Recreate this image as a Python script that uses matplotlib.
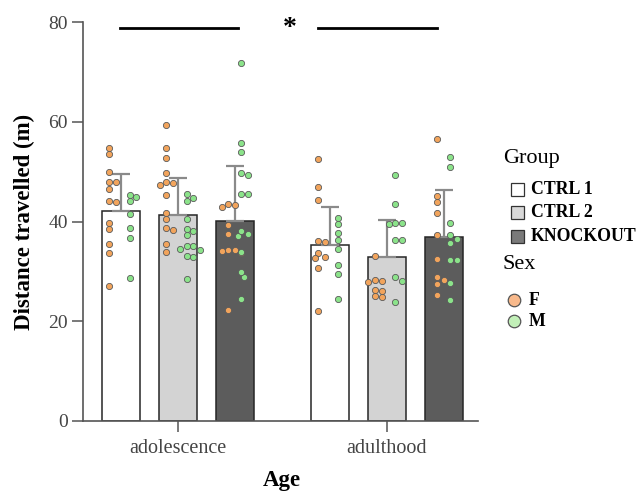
import numpy as np
import matplotlib
matplotlib.use("Agg")
import matplotlib.pyplot as plt
from matplotlib.patches import Rectangle

plt.rcParams['font.family'] = ['Liberation Serif', 'DejaVu Serif']

# data
ages = ["adolescence", "adulthood"]
groups = ["CTRL 1", "CTRL 2", "KNOCKOUT"]
group_colors = ["#ffffff", "#d3d3d3", "#5c5c5c"]
legend_colors = ["#ffffff", "#d8d8d8", "#7a7a7a"]

means = [[42.1, 41.3, 40.2], [35.3, 32.9, 36.9]]
errs = [[7.4, 7.4, 10.9], [7.6, 7.4, 9.5]]

# individual animals: F (orange) and M (green), per age and group
f_vals = [
    [[54.7, 53.6, 50.0, 47.9, 48.0, 46.6, 44.0, 44.2, 39.7, 38.5, 35.4, 33.6, 27.1],
     [59.4, 54.8, 52.7, 49.8, 47.4, 47.7, 47.9, 45.4, 41.7, 40.5, 38.3, 38.7, 35.5, 33.8],
     [43.3, 43.0, 43.5, 39.3, 37.5, 34.2, 34.0, 33.6, 34.2, 22.3]],
    [[52.5, 46.9, 44.4, 35.8, 36.0, 33.6, 32.9, 32.6, 30.7, 22.0],
     [33.0, 28.1, 28.3, 27.9, 26.3, 26.0, 24.9, 25.0],
     [56.5, 45.2, 44.0, 41.7, 37.4, 32.4, 28.9, 28.3, 27.4, 25.3]],
]
m_vals = [
    [[45.4, 44.2, 45.0, 41.5, 38.7, 36.7, 28.6],
     [45.6, 44.2, 44.8, 40.5, 38.1, 38.6, 37.3, 35.0, 34.3, 35.0, 34.5, 33.1, 32.9, 28.5],
     [71.8, 55.7, 53.9, 49.8, 49.4, 45.6, 45.6, 37.5, 37.1, 38.1, 33.9, 28.8, 29.8, 24.5]],
    [[40.7, 39.5, 37.8, 36.2, 34.4, 31.2, 29.4, 24.5],
     [49.4, 43.6, 39.8, 39.5, 39.8, 36.2, 36.2, 28.8, 28.1, 23.9],
     [53.0, 51.0, 39.8, 37.4, 36.6, 35.6, 32.2, 32.3, 27.6, 24.3]],
]

F_COLOR = "#f2a45c"
M_COLOR = "#8be38a"
F_LEG = "#f8b98b"
M_LEG = "#c2f0b8"

group_centers = np.array([0.0, 4.4])
bar_step = 1.2
bar_w = 0.8


def swarm(values, base, dx=0.125, dy=1.1):
    """simple beeswarm: place each point at the nearest free x offset"""
    placed = []
    xs = np.zeros(len(values))
    order = np.argsort(values)[::-1]
    steps = [0]
    for k in range(1, 8):
        steps += [k, -k]
    for i in order:
        y = values[i]
        for s in steps:
            x = base + s * dx * 0.55
            if all(((x - px) / dx) ** 2 + ((y - py) / dy) ** 2 >= 1 for px, py in placed):
                break
        placed.append((x, y))
        xs[i] = x
    return xs


fig = plt.figure(figsize=(6.41, 4.94), dpi=100)
ax = fig.add_axes([0.1295, 0.148, 0.6162, 0.807])

for a, gc in enumerate(group_centers):
    for g in range(3):
        x = gc + (g - 1) * bar_step
        ax.bar(x, means[a][g], width=bar_w, color=group_colors[g],
               edgecolor="#262626", linewidth=1.1, zorder=1)
        ax.errorbar(x, means[a][g], yerr=[[0], [errs[a][g]]], color="#8a8a8a",
                    lw=1.6, capsize=6.8, capthick=1.6, zorder=2)
        fv = np.array(f_vals[a][g])
        mv = np.array(m_vals[a][g])
        off_f = -0.25 if g < 2 else -0.14
        off_m = 0.18 if g < 2 else 0.13
        ax.scatter(swarm(fv, x + off_f), fv, s=20, color=F_COLOR,
                   edgecolor="#5a5a5a", linewidth=0.6, zorder=3)
        ax.scatter(swarm(mv, x + off_m), mv, s=20, color=M_COLOR,
                   edgecolor="#5a5a5a", linewidth=0.6, zorder=3)

ax.set_xlim(-2.0, 6.32)
ax.set_ylim(0, 80)
ax.set_yticks([0, 20, 40, 60, 80])
ax.set_xticks(group_centers)
ax.set_xticklabels(ages)
for s in ["top", "right"]:
    ax.spines[s].set_visible(False)
for s in ["left", "bottom"]:
    ax.spines[s].set_color("#555555")
    ax.spines[s].set_linewidth(1.2)
ax.tick_params(axis="both", length=8, width=1.1, color="#555555",
               labelsize=14, labelcolor="#444444")
ax.tick_params(axis="x", labelsize=14.5, pad=5)
ax.tick_params(axis="y", pad=3)

ax.set_ylabel("Distance travelled (m)", fontsize=16.5, fontweight="bold", va="center")
ax.yaxis.set_label_coords(-0.149, 0.5)
ax.set_xlabel("Age", fontsize=16.5, fontweight="bold", va="center")
ax.xaxis.set_label_coords(0.503, -0.149)

# significance bars
ax.plot([-1.22, 1.26], [78.8, 78.8], color="black", lw=2, clip_on=False)
ax.plot([2.95, 5.45], [78.8, 78.8], color="black", lw=2, clip_on=False)
ax.text(2.36, 78.8, "*", fontsize=20, fontweight="bold", ha="center", va="center",
        clip_on=False)

# legend drawn in figure pixel space
lax = fig.add_axes([0, 0, 1, 1])
lax.set_xlim(0, 641)
lax.set_ylim(494, 0)
lax.axis("off")
lax.text(503, 158, "Group", fontsize=16, va="center", ha="left")
for i, (name, col) in enumerate(zip(groups, legend_colors)):
    yc = 189 + 23.8 * i
    lax.add_patch(Rectangle((510.5, yc - 6.5), 13, 13, facecolor=col,
                            edgecolor="#333333", lw=0.9))
    lax.text(531, yc, name, fontsize=12.8, fontweight="bold", va="center", ha="left")
lax.text(503, 264, "Sex", fontsize=16, va="center", ha="left")
for yc, lab, col in [(300, "F", F_LEG), (321, "M", M_LEG)]:
    lax.plot(514, yc, "o", ms=9, mfc=col, mec="#555555", mew=0.9)
    lax.text(529, yc, lab, fontsize=12.8, fontweight="bold", va="center", ha="left")

fig.savefig("out.png", dpi=100)
